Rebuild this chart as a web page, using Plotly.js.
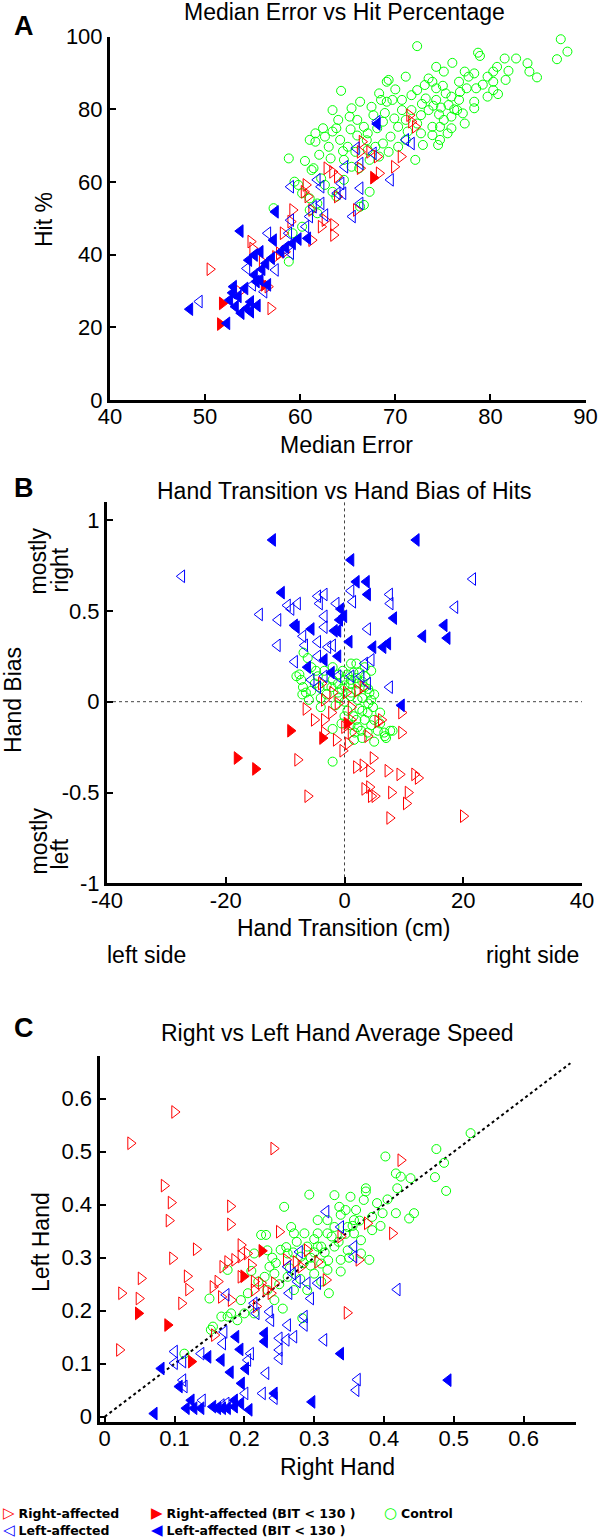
<!DOCTYPE html>
<html>
<head>
<meta charset="utf-8">
<script src="https://cdn.plot.ly/plotly-3.0.1.min.js"></script>
<style>html,body{margin:0;padding:0;background:#fff;}#chart{width:600px;height:1540px;}</style>
</head>
<body>
<div id="chart"></div>
<script>
// ---------------- Panel A: Median Error vs Hit Percentage ----------------
const aCtrlX = [72.3,87.4,88.1,87.0,78.7,78.9,76.0,74.3,71.1,69.1,69.3,64.3,77.3,78.3,80.3,80.7,81.5,82.7,83.9,84.1,84.9,81.9,81.6,80.3,79.7,78.3,78.5,77.7,76.7,75.1,73.9,74.3,73.1,72.3,71.7,70.7,69.7,69.1,68.3,68.5,67.5,67.7,66.3,65.4,63.4,65.2,64.0,63.8,66.0,66.7,67.1,68.1,68.7,69.9,70.3,71.1,72.7,72.3,73.5,74.3,75.3,75.9,76.7,76.5,77.1,77.3,75.9,74.7,73.9,74.7,74.5,72.9,72.1,71.1,70.3,69.5,68.7,67.9,67.1,65.8,65.0,64.2,63.4,62.6,61.6,62.4,61.6,61.0,63.0,63.2,64.6,65.4,66.2,67.3,68.3,69.3,58.8,61.2,61.4,62.2,62.6,59.4,59.8,60.2,61.0,61.8,63.4,63.8,64.6,67.3,66.3,66.7,57.2,59.2,61.0,61.8,58.8,60.2,75.1,75.9,75.5,78.3,77.5,79.7,80.3,73.9,72.7,71.3,71.7,70.7,74.8,75.6,76.2,74.0,73.2,74.6,76.8,75.0,73.5,72.8,70.0,68.9,67.0,66.0,65.3,64.5,62.0,60.5,79.2,80.8];
const aCtrlY = [97.4,99.3,95.9,93.8,95.6,94.7,92.8,91.7,89.0,87.6,88.1,85.1,90.4,89.9,90.4,91.7,94.0,94.0,92.7,90.4,88.8,90.6,88.1,85.3,83.5,82.1,85.8,89.0,87.6,90.4,87.6,85.8,86.7,85.3,83.9,82.6,82.6,82.1,84.4,82.6,80.7,78.4,82.1,80.3,79.8,78.0,77.1,74.8,77.1,75.2,73.4,74.8,76.6,77.5,75.2,77.1,78.4,76.1,79.8,82.6,84.4,83.5,82.6,79.8,78.9,76.1,74.8,75.2,72.9,71.6,70.2,70.2,66.1,71.6,69.7,72.5,70.6,69.7,68.8,68.3,69.7,71.6,73.9,72.5,73.4,74.8,71.1,71.6,69.7,66.5,66.1,64.2,63.8,66.1,67.0,68.3,66.5,63.3,63.8,61.0,59.2,60.1,59.2,56.9,55.5,54.1,57.3,56.0,60.6,57.3,53.2,53.7,52.8,45.9,52.3,51.4,38.1,47.7,77.1,78.0,73.4,80.3,85.8,89.0,87.6,75.2,73.4,73.9,79.8,79.8,80.5,81.2,80.0,81.0,83.0,78.6,84.8,86.5,88.5,81.5,85.5,79.0,71.5,72.8,74.5,68.5,67.5,65.8,86.8,84.2];

const aRightX = [50.5,56.9,70.6,69.9,63.5,63.5,59.2,60.6,60.4,60.8,61.2,61.2,62.2,62.8,63.4,63.9,66.3,66.5,66.3,67.3,68.1,68.3,71.5,71.7,72.1,54.8,55.0,56.0,57.4,57.8,58.4,53.6,56.6,65.9,63.9,59.0,58.2,62.6];
const aRightY = [36.0,25.2,67.0,64.2,48.2,45.4,52.3,59.2,57.3,56.0,52.3,44.0,47.7,63.8,62.8,61.5,63.8,71.1,68.3,68.3,67.0,62.4,78.4,76.6,75.2,43.6,41.7,38.1,39.4,40.4,40.8,29.8,31.2,52.3,56.0,49.1,45.9,49.5];

const aRightBitX = [51.8,51.6,67.7,56.2];
const aRightBitY = [26.6,20.9,61.2,31.7];

const aLeftX = [49.4,59.0,61.8,62.2,64.3,64.5,64.7,65.9,66.3,66.3,66.3,65.5,69.5,68.1,71.1,71.7,67.7,56.6,59.0,58.8,59.0,54.4,55.0,56.2,57.4,61.0,61.4,62.2,62.6,60.6,63.9];
const aLeftY = [27.1,58.7,60.6,58.7,59.6,56.9,64.2,69.3,65.1,58.3,54.1,50.5,60.6,76.6,71.6,70.6,67.9,45.9,49.5,45.9,40.4,36.2,31.7,29.8,35.8,50.5,53.2,54.1,50.9,47.7,56.9];

const aLeftBitX = [48.4,52.3,53.7,57.4,52.6,53.0,53.2,53.8,54.4,54.2,55.2,55.4,56.6,55.2,55.8,56.4,57.2,58.0,59.2,60.8,68.1,54.6,54.8,53.5,54.8,55.5,52.9,55.8,56.0,57.0,58.5,59.8];
const aLeftBitY = [25.0,21.1,46.5,51.8,27.5,31.2,25.7,23.9,25.2,30.7,34.4,32.6,31.7,39.9,40.8,37.6,44.0,40.8,43.1,44.5,76.0,38.5,24.3,28.5,27.0,26.0,29.5,33.0,36.0,39.0,42.0,44.3];

const aXTicks = [40,50,60,70,80,90];
const aXTickText = ['40','50','60','70','80','90'];
const aYTicks = [0,20,40,60,80,100];
const aYTickText = ['0','20','40','60','80','100'];

// ---------------- Panel B: Hand Transition vs Hand Bias of Hits ----------------
const bCtrlX = [-6.9,-6.2,-7.6,-7.3,-7.0,-6.5,-5.6,-4.8,-4.5,-4.2,-5.6,-2.0,-2.0,-2.2,-1.1,0,1.1,2.2,3.4,4.2,4.5,4.8,3.9,3.4,2.2,1.7,2.8,3.9,5.6,6.7,7.0,8.1,1.1,2.0,3.4,4.5,-1.1,1.1,2.2,-3.4,-2.0,-0.3,7.7,6.8,-8.1,-7.1,1.6,-1,0,1,2,3,0.5,1.5,2.5,-0.5,-2,-1,0,1,2,3,4,5,4,3,5,6,2,-3,-4,-5,-3,1.5,3.5,-1.5,0.5,2.5,6,4.5,0,-0.5,1,3,5,-6,-4];
const bCtrlY = [0.27,0.24,0.15,0.12,0.08,0.05,0.19,0.17,0.14,0.08,0.06,-0.33,-0.15,0.08,0.10,0.12,0.12,0.10,0.08,0.05,0.01,-0.03,-0.06,-0.10,-0.14,-0.17,-0.16,-0.17,-0.16,-0.17,-0.20,-0.16,0.21,0.21,0.19,0.17,0.05,0.05,0.01,0.17,0.19,0.17,-0.16,-0.19,0.14,0.04,-0.21,0.02,0,0.03,0.06,0.02,-0.05,-0.08,-0.04,0.07,0.12,0.15,0.09,0.10,0.13,0.11,0.07,0.04,-0.01,-0.05,-0.10,-0.06,-0.10,0.04,0.02,0.10,0.09,0.16,0.14,-0.02,0.15,0.16,-0.12,-0.13,-0.08,-0.12,-0.13,-0.20,-0.22,0.01,-0.03];

const bRightX = [-6.5,-5.1,-3.4,-3.4,-1.4,-7.9,-6.2,-0.3,0.6,2.0,3.1,4.2,4.8,7.3,9.3,11.8,12.4,3.4,4.2,4.5,5.1,7.9,10.7,10.4,7.6,20.0,3.9,5.6,9.6,9.6,1.1,-2.2,-1.1,1.1,2.2,3.1,-3.9,-2.0,0.3,-3.4,0,1.1,6.2];
const bRightY = [-0.04,-0.10,0.01,-0.17,-0.21,-0.32,-0.52,-0.27,-0.23,-0.36,-0.35,-0.38,-0.31,-0.38,-0.40,-0.40,-0.42,-0.48,-0.47,-0.52,-0.52,-0.50,-0.50,-0.56,-0.64,-0.63,-0.19,-0.11,-0.17,-0.06,-0.17,-0.06,-0.01,-0.03,0.06,0.08,0.10,0.05,0.05,-0.10,-0.14,-0.10,-0.10];

const bRightBitX = [-18.1,-15.0,-9.1,-3.7,0.4];
const bRightBitY = [-0.31,-0.37,-0.16,-0.20,-0.12];

const bLeftX = [-27.4,21.6,18.6,-14.3,-11.2,-11.3,-9.6,-7.9,-9.0,-4.2,-3.4,-1.4,-3.4,-3.4,1.1,1.4,7.6,7.7,3.9,-7.0,-6.7,-4.5,-2.8,-2.0,-4.5,-8.4,3.4,4.5,7.6,-5.6,-3.4,-1.1,1.1,2.8,3.9,-4.5,-4.5];
const bLeftY = [0.69,0.675,0.52,0.48,0.45,0.31,0.53,0.54,0.51,0.54,0.59,0.54,0.47,0.41,0.61,0.55,0.59,0.54,0.40,0.36,0.31,0.33,0.30,0.31,0.25,0.22,0.21,0.23,0.08,0.12,0.14,0.14,0.14,0.14,0.10,0.08,0.58];

const bLeftBitX = [-12.1,12.1,1.1,2.0,3.7,3.9,-10.6,-8.1,-5.6,-0.6,-0.1,-0.8,-1.1,-1.7,0.8,4.8,6.5,7.3,8.3,16.8,13.2,17.3,9.6,-6.2,-2.2,-3.4,-1.1,-8.4];
const bLeftBitY = [0.89,0.89,0.78,0.66,0.66,0.59,0.60,0.41,0.40,0.51,0.47,0.45,0.39,0.39,0.33,0.30,0.30,0.32,0.46,0.42,0.36,0.35,-0.02,0.19,0.16,0.23,0.25,0.42];

const bXTicks = [-40,-20,0,20,40];
const bXTickText = ['-40','-20','0','20','40'];
const bYTicks = [-1,-0.5,0,0.5,1];
const bYTickText = ['-1','-0.5','0','0.5','1'];

// ---------------- Panel C: Right vs Left Hand Average Speed ----------------
const cCtrlX = [0.402,0.417,0.424,0.438,0.419,0.443,0.436,0.417,0.398,0.374,0.374,0.352,0.329,0.293,0.257,0.336,0.371,0.390,0.383,0.383,0.357,0.338,0.319,0.305,0.305,0.319,0.286,0.267,0.271,0.224,0.231,0.214,0.233,0.252,0.236,0.243,0.229,0.262,0.290,0.310,0.329,0.348,0.338,0.367,0.379,0.310,0.300,0.319,0.338,0.321,0.283,0.255,0.243,0.233,0.205,0.200,0.181,0.176,0.176,0.150,0.155,0.152,0.167,0.114,0.190,0.214,0.195,0.271,0.290,0.262,0.281,0.305,0.357,0.367,0.348,0.329,0.524,0.475,0.486,0.473,0.489,0.245,0.260,0.275,0.285,0.295,0.300,0.315,0.325,0.335,0.345,0.355,0.360,0.250,0.265,0.280,0.295,0.310,0.220,0.210,0.240,0.270,0.300,0.320,0.350,0.395,0.405,0.365,0.345];
const cCtrlY = [0.491,0.459,0.453,0.450,0.431,0.384,0.374,0.384,0.384,0.431,0.425,0.415,0.418,0.419,0.396,0.396,0.409,0.403,0.377,0.352,0.371,0.381,0.371,0.371,0.346,0.346,0.346,0.358,0.346,0.343,0.343,0.308,0.314,0.315,0.283,0.270,0.264,0.264,0.321,0.321,0.321,0.314,0.296,0.308,0.296,0.289,0.270,0.277,0.274,0.233,0.186,0.204,0.220,0.239,0.233,0.195,0.195,0.189,0.277,0.223,0.170,0.164,0.189,0.119,0.182,0.195,0.220,0.239,0.239,0.308,0.302,0.321,0.346,0.333,0.358,0.358,0.535,0.505,0.479,0.452,0.426,0.290,0.320,0.330,0.290,0.300,0.335,0.310,0.340,0.330,0.345,0.360,0.390,0.250,0.280,0.260,0.285,0.255,0.255,0.275,0.300,0.310,0.310,0.295,0.300,0.360,0.410,0.370,0.390];

const cRightX = [0.100,0.037,0.242,0.085,0.095,0.092,0.180,0.180,0.097,0.131,0.052,0.024,0.049,0.118,0.120,0.110,0.021,0.155,0.162,0.169,0.176,0.186,0.195,0.195,0.204,0.210,0.250,0.167,0.181,0.214,0.214,0.217,0.224,0.231,0.238,0.243,0.260,0.274,0.290,0.305,0.317,0.338,0.376,0.364,0.424,0.412,0.347,0.157,0.281,0.195];
const cRightY = [0.575,0.516,0.506,0.436,0.404,0.370,0.397,0.363,0.299,0.316,0.261,0.233,0.223,0.265,0.240,0.214,0.126,0.245,0.255,0.283,0.292,0.296,0.302,0.324,0.308,0.286,0.349,0.226,0.220,0.255,0.239,0.208,0.252,0.239,0.233,0.252,0.296,0.292,0.314,0.292,0.258,0.340,0.365,0.296,0.484,0.346,0.196,0.154,0.283,0.264];

const cRightBitX = [0.048,0.090,0.124,0.199,0.225];
const cRightBitY = [0.195,0.173,0.104,0.265,0.313];

const cLeftX = [0.419,0.362,0.360,0.314,0.286,0.262,0.260,0.271,0.250,0.250,0.250,0.236,0.238,0.231,0.226,0.243,0.286,0.295,0.209,0.205,0.201,0.169,0.171,0.100,0.100,0.112,0.138,0.112,0.114,0.140,0.167,0.174,0.174,0.214,0.217,0.262,0.279,0.269,0.276,0.290,0.305,0.338,0.357,0.357,0.317,0.264];
const cLeftY = [0.240,0.070,0.050,0.145,0.173,0.173,0.145,0.151,0.148,0.126,0.110,0.198,0.182,0.082,0.044,0.035,0.189,0.223,0.119,0.107,0.044,0.138,0.160,0.123,0.101,0.104,0.119,0.069,0.057,0.031,0.022,0.025,0.230,0.214,0.195,0.283,0.311,0.270,0.255,0.252,0.252,0.358,0.321,0.302,0.387,0.233];

const cLeftBitX = [0.071,0.081,0.107,0.117,0.124,0.128,0.138,0.148,0.167,0.180,0.188,0.194,0.202,0.196,0.155,0.162,0.169,0.176,0.186,0.186,0.195,0.207,0.229,0.229,0.243,0.297,0.338,0.492];
const cLeftBitY = [0.006,0.091,0.057,0.016,0.031,0.016,0.016,0.113,0.107,0.084,0.151,0.127,0.091,0.063,0.019,0.016,0.016,0.016,0.019,0.031,0.025,0.013,0.157,0.142,0.044,0.028,0.119,0.069];

const cIdentity = [0, 0.667];
const cTicks = [0,0.1,0.2,0.3,0.4,0.5,0.6];
const cTickText = ['0','0.1','0.2','0.3','0.4','0.5','0.6'];

const groupNames = ['Right-affected','Left-affected','Right-affected (BIT < 130 )','Left-affected (BIT < 130 )','Control'];

// ---------------- Styling ----------------
const W = 600, H = 1540;
const px = v => v / W;          // page px -> paper x
const py = v => 1 - v / H;      // page px -> paper y
const RED = '#ff0000', BLUE = '#0000ff', GREEN = '#00ff00';
const FONT = 'Liberation Sans, Arial, sans-serif';

function mk(x, y, xa, ya, symbol, color, size, name) {
  return {
    type: 'scatter', mode: 'markers', x: x, y: y, xaxis: xa, yaxis: ya, name: name,
    showlegend: false, hoverinfo: 'skip', cliponaxis: false,
    marker: {symbol: symbol, size: size, color: color, line: {color: color, width: 1}}
  };
}
function panel(xa, ya, ctrl, right, left, rbit, lbit) {
  return [
    mk(ctrl[0], ctrl[1], xa, ya, 'circle-open', GREEN, 9, groupNames[4]),
    mk(right[0], right[1], xa, ya, 'triangle-right-open', RED, 11, groupNames[0]),
    mk(left[0], left[1], xa, ya, 'triangle-left-open', BLUE, 11, groupNames[1]),
    mk(rbit[0], rbit[1], xa, ya, 'triangle-right', RED, 11, groupNames[2]),
    mk(lbit[0], lbit[1], xa, ya, 'triangle-left', BLUE, 11, groupNames[3])
  ];
}

const traces = [].concat(
  panel('x', 'y', [aCtrlX, aCtrlY], [aRightX, aRightY], [aLeftX, aLeftY], [aRightBitX, aRightBitY], [aLeftBitX, aLeftBitY]),
  panel('x2', 'y2', [bCtrlX, bCtrlY], [bRightX, bRightY], [bLeftX, bLeftY], [bRightBitX, bRightBitY], [bLeftBitX, bLeftBitY]),
  [{type: 'scatter', mode: 'lines', x: cIdentity, y: cIdentity, xaxis: 'x3', yaxis: 'y3', showlegend: false,
    hoverinfo: 'skip', line: {color: '#000', width: 2, dash: 'dot'}}],
  panel('x3', 'y3', [cCtrlX, cCtrlY], [cRightX, cRightY], [cLeftX, cLeftY], [cRightBitX, cRightBitY], [cLeftBitX, cLeftBitY])
);

function axis(domain, range, tickvals, ticktext, anchor, isX) {
  return {
    domain: domain, range: range, anchor: anchor, tickmode: 'array', tickvals: tickvals, ticktext: ticktext,
    showline: true, linewidth: 3, linecolor: '#000', mirror: false,
    ticks: 'inside', ticklen: 6, tickwidth: 2, tickcolor: '#000',
    ticklabelstandoff: isX ? -5 : 0,
    showgrid: false, zeroline: false, fixedrange: true,
    tickfont: {family: FONT, size: 22, color: '#000'}
  };
}

function ann(text, x, y, opts) {
  return Object.assign({
    text: text, x: px(x), y: py(y), xref: 'paper', yref: 'paper', showarrow: false,
    xanchor: 'center', yanchor: 'middle',
    font: {family: FONT, size: 23, color: '#000'}
  }, opts || {});
}
const LEGFONT = {family: 'DejaVu Sans, sans-serif', size: 12.5, color: '#000'};
function legendItem(glyph, color, label, x, y) {
  return ann('<span style="color:' + color + '; font-size:15px">' + glyph + '</span> <b>' + label + '</b>', x, y,
             {xanchor: 'left', font: LEGFONT});
}

const layout = {
  width: W, height: H, margin: {l: 0, r: 0, t: 0, b: 0, pad: 0},
  paper_bgcolor: '#fff', plot_bgcolor: 'rgba(0,0,0,0)', showlegend: false,
  xaxis: axis([px(110), px(585.5)], [40, 90], aXTicks, aXTickText, 'y', true),
  yaxis: axis([py(400), py(36.7)], [0, 100], aYTicks, aYTickText, 'x', false),
  xaxis2: axis([px(107), px(582)], [-40, 40], bXTicks, bXTickText, 'y2', true),
  yaxis2: axis([py(883.4), py(501.8)], [-1, 1.1], bYTicks, bYTickText, 'x2', false),
  xaxis3: axis([px(99.5), px(576)], [-0.0075, 0.675], cTicks, cTickText, 'y3', true),
  yaxis3: axis([py(1421.5), py(1056.3)], [-0.009, 0.68], cTicks, cTickText, 'x3', false),
  shapes: [
    {type: 'line', xref: 'x2', yref: 'y2', x0: 0, x1: 0, y0: -1, y1: 1.1, layer: 'below',
     line: {color: '#444', width: 1, dash: 'dot'}},
    {type: 'line', xref: 'x2', yref: 'y2', x0: -40, x1: 40, y0: 0, y1: 0, layer: 'below',
     line: {color: '#444', width: 1, dash: 'dot'}}
  ],
  annotations: [
    ann('<b>A</b>', 24, 26, {font: {family: FONT, size: 27, color: '#000'}}),
    ann('Median Error vs Hit Percentage', 344.5, 12),
    ann('Hit %', 44, 220, {textangle: -90}),
    ann('Median Error', 346, 445),

    ann('<b>B</b>', 24, 488, {font: {family: FONT, size: 27, color: '#000'}}),
    ann('Hand Transition vs Hand Bias of Hits', 344.5, 491),
    ann('Hand Bias', 13, 700, {textangle: -90}),
    ann('mostly', 38, 597, {textangle: -90, yanchor: 'bottom'}),
    ann('right', 59, 595, {textangle: -90, yanchor: 'bottom'}),
    ann('mostly', 38, 877, {textangle: -90, yanchor: 'bottom'}),
    ann('left', 59, 872, {textangle: -90, yanchor: 'bottom'}),
    ann('Hand Transition (cm)', 343.5, 928),
    ann('left side', 105, 955, {xanchor: 'left'}),
    ann('right side', 581, 955, {xanchor: 'right'}),

    ann('<b>C</b>', 24, 1028, {font: {family: FONT, size: 27, color: '#000'}}),
    ann('Right vs Left Hand Average Speed', 337, 1033),
    ann('Left Hand', 41, 1242, {textangle: -90}),
    ann('Right Hand', 337, 1467),

    legendItem('\u25B7', RED, groupNames[0], 1, 1513),
    legendItem('\u25C1', BLUE, groupNames[1], 1, 1530),
    legendItem('\u25B6', RED, groupNames[2], 149, 1513),
    legendItem('\u25C0', BLUE, groupNames[3], 149, 1530),
    legendItem('\u25CB', GREEN, groupNames[4], 382, 1513)
  ]
};

Plotly.newPlot('chart', traces, layout, {staticPlot: true, displayModeBar: false});
</script>
</body>
</html>
